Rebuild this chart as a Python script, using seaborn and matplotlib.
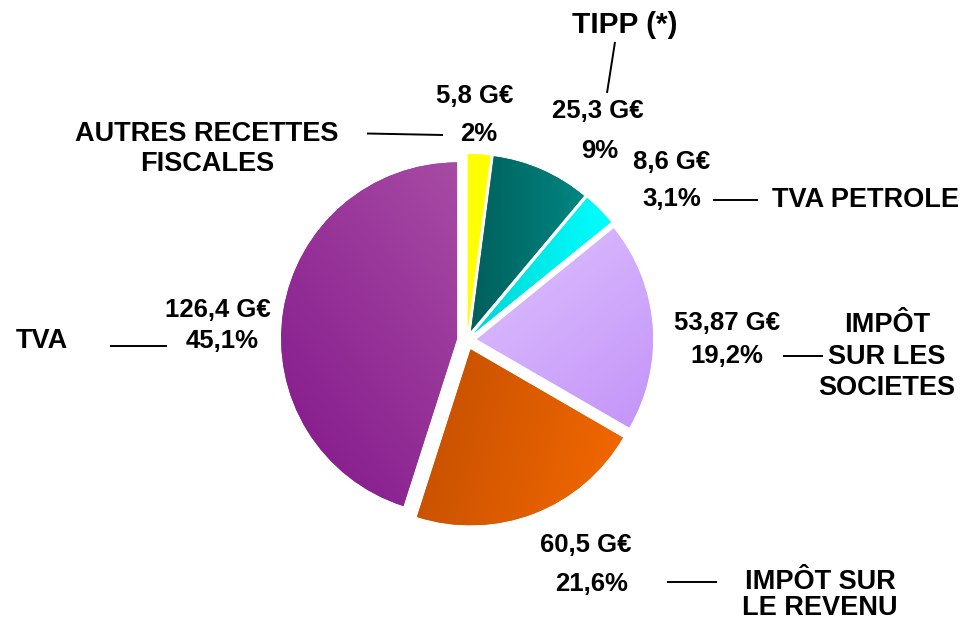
import numpy as np
import matplotlib
matplotlib.use("Agg")
import matplotlib.pyplot as plt
import seaborn as sns
from matplotlib.colors import to_rgb

# ---- data ----
categories = ["AUTRES RECETTES\nFISCALES", "TIPP (*)", "TVA PETROLE",
              "IMPÔT\nSUR LES\nSOCIETES", "IMPÔT SUR\nLE REVENU", "TVA"]
amounts = [5.8, 25.3, 8.6, 53.87, 60.5, 126.4]
amount_labels = ["5,8 G€", "25,3 G€", "8,6 G€", "53,87 G€", "60,5 G€", "126,4 G€"]
pct_labels = ["2%", "9%", "3,1%", "19,2%", "21,6%", "45,1%"]

# ---- styles ----
grad_from = ["#ffff00", "#005f5b", "#00d6d6", "#dfc2ff", "#c24e00", "#82168a"]
grad_to = ["#ffff00", "#008682", "#00ffff", "#c394f8", "#f56900", "#a74ba4"]
grad_angle = [0, 0, 0, -50, -15, 35]

sns.set_theme(style="white")
plt.rcParams['font.family'] = ['Liberation Sans', 'DejaVu Sans']

W, H = 963, 623
fig = plt.figure(figsize=(W / 100, H / 100), dpi=100)
ax = fig.add_axes([0, 0, 1, 1])


def Y(py):
    return H - py


cx, cy, R = 467, 340, 176
gap = 10
mid_cols = [tuple((np.array(to_rgb(a)) + np.array(to_rgb(b))) / 2)
            for a, b in zip(grad_from, grad_to)]
wedges, _ = ax.pie(amounts, explode=[gap] * len(amounts), startangle=90,
                   counterclock=False, center=(cx, Y(cy)), radius=R,
                   colors=mid_cols, wedgeprops=dict(linewidth=0))

# gradient fills clipped to each wedge
for w, c0, c1, ang in zip(wedges, grad_from, grad_to, grad_angle):
    bb = w.get_path().get_extents()
    n = 200
    xs = np.linspace(0, 1, n) * bb.width
    ys = np.linspace(0, 1, n) * bb.height
    X, Yg = np.meshgrid(xs, ys)
    a = np.deg2rad(ang)
    proj = X * np.cos(a) + Yg * np.sin(a)
    t = (proj - proj.min()) / max(proj.max() - proj.min(), 1e-9)
    c0a, c1a = np.array(to_rgb(c0)), np.array(to_rgb(c1))
    img = c0a[None, None, :] * (1 - t[..., None]) + c1a[None, None, :] * t[..., None]
    im = ax.imshow(img, extent=(bb.x0, bb.x1, bb.y0, bb.y1), origin='lower',
                   interpolation='bilinear', zorder=w.get_zorder() + 0.1)
    im.set_clip_path(w)

ax.set_xlim(0, W)
ax.set_ylim(0, H)
ax.set_aspect('equal')
ax.axis('off')

num_fs = 18.5
lab_fs = 19.5
tkw = dict(fontweight='bold', color='black', va='baseline', ha='center')

# amount and percent labels (pixel centre x, baseline y)
amount_pos = [(475, 103), (598, 118), (672, 169), (727, 330), (586, 552), (218, 317)]
pct_pos = [(479, 141), (600, 158), (672, 206), (727, 363), (592, 591), (222, 348)]
for txt, (x, y) in zip(amount_labels, amount_pos):
    ax.text(x, Y(y), txt, fontsize=num_fs, **tkw)
for txt, (x, y) in zip(pct_labels, pct_pos):
    ax.text(x, Y(y), txt, fontsize=num_fs, **tkw)

# category labels: (centre x, first baseline y, line step, fontsize)
cat_pos = [(207, 141, 30, lab_fs), (625, 33, 0, 21.5), (866, 207, 0, lab_fs),
           (887, 332, 31.5, lab_fs), (820, 589, 26, lab_fs), (42, 348, 0, lab_fs)]
for txt, (x, y, step, fs) in zip(categories, cat_pos):
    for i, line in enumerate(txt.split("\n")):
        ax.text(x, Y(y + i * step), line, fontsize=fs, **tkw)

# leader lines
leaders = [((367, 133.5), (443, 135)), ((615, 42), (607, 93)), ((713, 200), (758, 200)),
           ((783, 356), (823, 356)), ((667, 582), (717, 582)), ((110, 346), (167, 346))]
for (x0, y0), (x1, y1) in leaders:
    ax.plot([x0, x1], [Y(y0), Y(y1)], color='black', lw=1.4, solid_capstyle='butt')

fig.savefig("out.png", dpi=100)
